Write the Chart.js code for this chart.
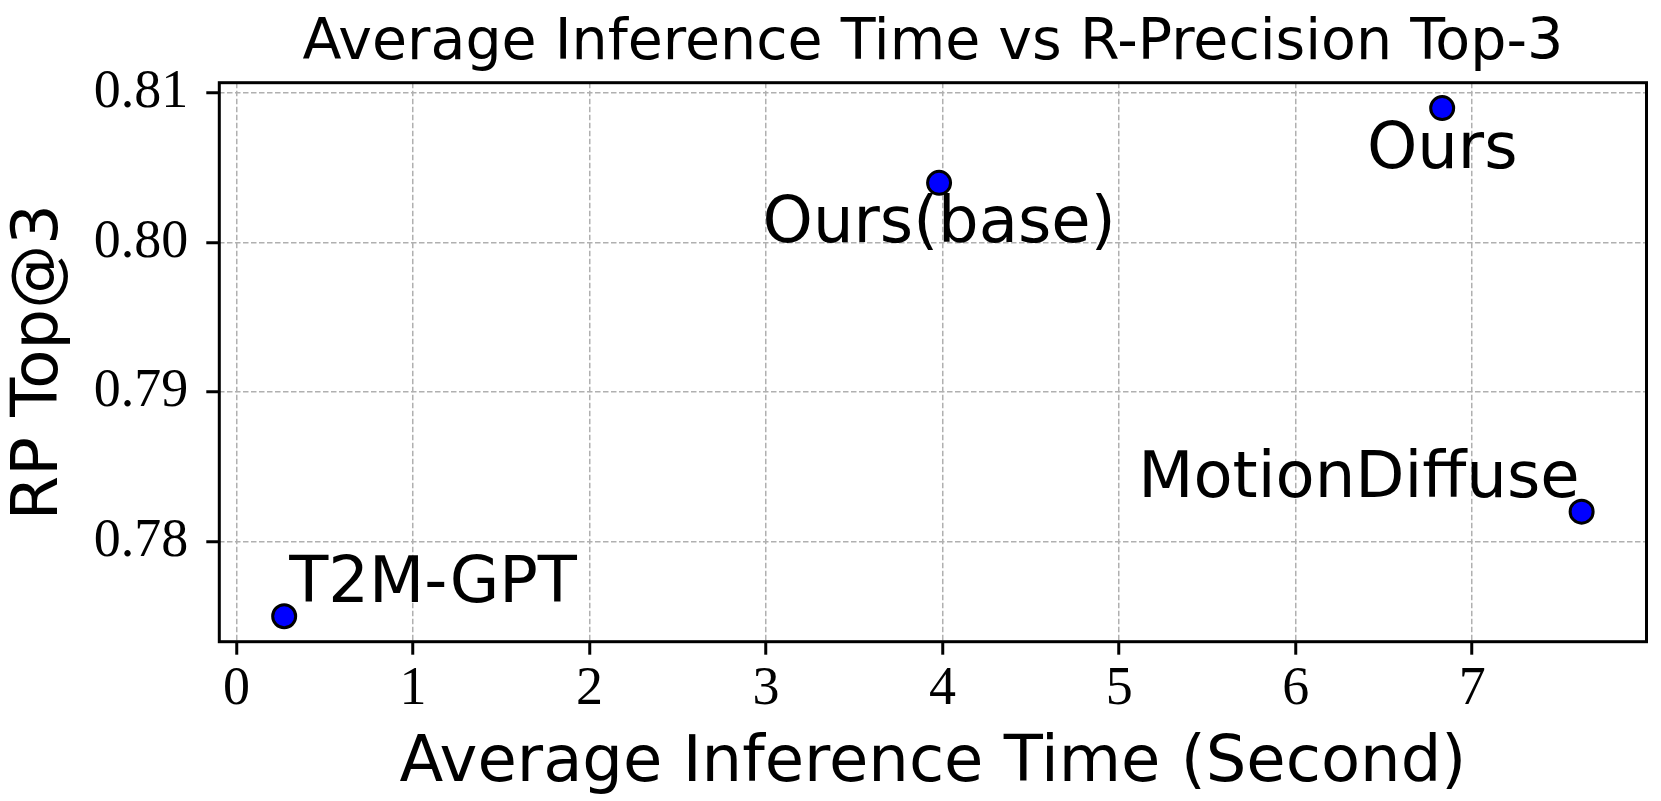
<!DOCTYPE html>
<html>
<head>
<meta charset="utf-8">
<title>Average Inference Time vs R-Precision Top-3</title>
<script src="https://cdn.jsdelivr.net/npm/chart.js@4.4.1/dist/chart.umd.min.js"></script>
<style>
  html, body { margin: 0; padding: 0; background: #fff; }
  canvas { display: block; }
</style>
</head>
<body>
<canvas id="scatterChart" width="1661" height="801"></canvas>
<script>
// values
var methods = ['T2M-GPT', 'Ours(base)', 'Ours', 'MotionDiffuse'];
var inferenceTime = [0.27, 3.98, 6.83, 7.62];
var rpTop3 = [0.775, 0.804, 0.809, 0.782];
var xTicks = [0, 1, 2, 3, 4, 5, 6, 7];
var yTicks = [0.78, 0.79, 0.80, 0.81];

// where each name sits relative to its point
var labelPlacement = [
    { align: 'left', dx: 5, dy: -14 },
    { align: 'center', dx: 0, dy: 59 },
    { align: 'center', dx: 0, dy: 60 },
    { align: 'right', dx: -2, dy: -15 }
];

function margin(arr) {
    var lo = Math.min.apply(null, arr), hi = Math.max.apply(null, arr);
    var pad = (hi - lo) * 0.05;
    return { min: lo - pad, max: hi + pad };
}
var xRange = margin(inferenceTime);
var yRange = margin(rpTop3);

var sans = "'DejaVu Sans', sans-serif";
var serif = "'Liberation Serif', 'Times New Roman', serif";

var annotatePlugin = {
    id: 'annotate',
    afterDatasetsDraw: function (chart) {
        var ctx = chart.ctx;
        var area = chart.chartArea;
        var meta = chart.getDatasetMeta(0);
        ctx.save();
        // frame on all four sides
        ctx.strokeStyle = '#000';
        ctx.lineWidth = 3;
        ctx.strokeRect(area.left, area.top, area.right - area.left, area.bottom - area.top);
        // point names
        ctx.fillStyle = '#000';
        ctx.font = '64px ' + sans;
        ctx.textBaseline = 'alphabetic';
        meta.data.forEach(function (pt, i) {
            var p = labelPlacement[i];
            ctx.textAlign = p.align;
            ctx.fillText(methods[i], pt.x + p.dx, pt.y + p.dy);
        });
        // title, centred over the plot
        ctx.font = '57px ' + sans;
        ctx.textAlign = 'center';
        ctx.fillText('Average Inference Time vs R-Precision Top-3', (area.left + area.right) / 2, 59);
        ctx.restore();
    }
};

var ctx = document.getElementById('scatterChart').getContext('2d');
var chart = new Chart(ctx, {
    type: 'scatter',
    data: {
        datasets: [{
            data: inferenceTime.map(function (t, i) { return { x: t, y: rpTop3[i] }; }),
            backgroundColor: '#0000ff',
            borderColor: '#000',
            borderWidth: 3,
            pointRadius: 11.5
        }]
    },
    plugins: [annotatePlugin],
    options: {
        responsive: false,
        animation: false,
        events: [],
        layout: { padding: { top: 82.7, right: 10.3, left: 0, bottom: 0 } },
        plugins: {
            legend: { display: false },
            tooltip: { enabled: false },
            title: { display: false }
        },
        scales: {
            x: {
                type: 'linear',
                min: xRange.min,
                max: xRange.max,
                afterBuildTicks: function (scale) {
                    scale.ticks = xTicks.map(function (v) { return { value: v }; });
                },
                afterFit: function (scale) { scale.height = 159.3; },
                ticks: {
                    autoSkip: false,
                    maxRotation: 0,
                    padding: 3,
                    color: '#000',
                    font: { family: serif, size: 54, lineHeight: 1.2 },
                    callback: function (v) { return String(v); }
                },
                grid: {
                    color: '#b0b0b0',
                    lineWidth: 1.5,
                    tickColor: '#000',
                    tickWidth: 3,
                    tickLength: 13,
                    tickBorderDash: []
                },
                border: { display: false, dash: [5.5, 2.5] },
                title: {
                    display: true,
                    text: 'Average Inference Time (Second)',
                    color: '#000',
                    font: { family: sans, size: 64, lineHeight: 1 },
                    padding: { top: 0, bottom: 4.4 }
                }
            },
            y: {
                type: 'linear',
                min: yRange.min,
                max: yRange.max,
                afterBuildTicks: function (scale) {
                    scale.ticks = yTicks.map(function (v) { return { value: v }; });
                },
                afterFit: function (scale) { scale.width = 219.3; },
                ticks: {
                    autoSkip: false,
                    padding: 18,
                    color: '#000',
                    font: { family: serif, size: 54, lineHeight: 1.2 },
                    callback: function (v) { return v.toFixed(2); }
                },
                grid: {
                    color: '#b0b0b0',
                    lineWidth: 1.5,
                    tickColor: '#000',
                    tickWidth: 3,
                    tickLength: 13,
                    tickBorderDash: []
                },
                border: { display: false, dash: [5.5, 2.5] },
                title: {
                    display: true,
                    text: 'RP Top@3',
                    color: '#000',
                    font: { family: sans, size: 64, lineHeight: 1 },
                    padding: { top: 8, bottom: 0 }
                }
            }
        }
    }
});
</script>
</body>
</html>
